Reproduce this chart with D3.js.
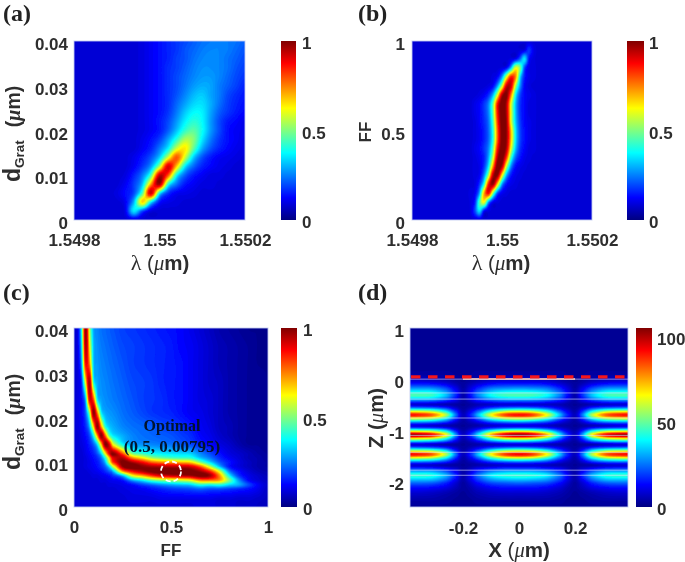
<!DOCTYPE html>
<html><head><meta charset="utf-8">
<script src="https://cdn.jsdelivr.net/npm/d3@7"></script>
<style>html,body{margin:0;padding:0;background:#fff}svg{display:block}</style>
</head><body><svg id="c" width="685" height="562"></svg>
<script>
// ---- colour map
const jetStops=[0,.125,.375,.625,.875,1];
const jetColors=["#000080","#0000ff","#00ffff","#ffff00","#ff0000","#800000"];

// ---- panel (a): value x100, rows from d=0.04 down to d=0
const lambdaA=[1.5498,1.54982,1.54984,1.54986,1.54988,1.5499,1.54992,1.54994,1.54996,1.54998,1.55,1.55002,1.55004,1.55006,1.55008,1.5501,1.55012,1.55014,1.55016,1.55018,1.5502];
const dA=[.04,.038,.036,.034,.032,.03,.028,.026,.024,.022,.02,.018,.016,.014,.012,.01,.008,.006,.004,.002,0];
const valuesA=[
[9,9,9,9,9,9,9,9,10,12,14,16,18,20,22,24,25,26,25,24,22],
[9,9,9,9,9,9,9,9,10,12,14,16,18,21,23,25,26,26,25,23,21],
[9,9,9,9,9,9,9,9,10,12,14,16,19,21,24,26,27,26,24,22,20],
[9,9,9,9,9,9,9,9,10,12,14,17,19,22,25,27,27,26,24,21,19],
[9,9,9,9,9,9,9,9,10,12,14,17,20,23,26,28,28,26,23,20,18],
[9,9,9,9,9,9,9,9,10,12,14,17,20,24,28,30,29,25,22,19,16],
[9,9,9,9,9,9,9,9,10,12,14,17,21,26,31,33,29,25,20,17,15],
[9,9,9,9,9,9,9,9,10,12,14,17,23,29,34,35,30,24,19,16,14],
[9,9,9,9,9,9,9,9,10,12,14,18,25,33,38,37,29,22,18,15,13],
[9,9,9,9,9,9,9,9,10,12,15,20,28,37,42,38,28,20,15,13,11],
[9,9,9,9,9,9,9,9,10,12,15,22,32,43,47,39,28,20,14,12,11],
[9,9,9,9,9,9,9,9,11,14,19,29,42,55,51,36,25,18,14,12,10],
[9,9,9,9,9,9,9,9,12,16,25,37,58,65,47,30,21,16,13,11,10],
[9,9,9,9,9,9,9,11,15,21,33,58,80,58,33,21,15,12,11,10,9],
[9,9,9,9,9,9,9,12,18,28,54,92,68,36,23,16,13,11,10,9,9],
[9,9,9,9,9,9,10,16,25,45,94,80,38,22,15,12,10,10,9,9,9],
[9,9,9,9,9,9,12,19,32,72,98,41,24,15,12,10,10,9,9,9,9],
[9,9,9,9,9,10,14,20,45,94,37,18,12,11,10,9,9,9,9,9,9],
[9,9,9,9,9,9,12,30,68,36,15,11,10,9,9,9,9,9,9,9,9],
[9,9,9,9,9,9,11,36,20,10,9,9,9,9,9,9,9,9,9,9,9],
[9,9,9,9,9,9,9,9,9,9,9,9,9,9,9,9,9,9,9,9,9]];

// ---- panel (b)
const lambdaB=[1.5498,1.5499,1.54991,1.54992,1.54993,1.54994,1.54995,1.54996,1.54997,1.54998,1.54999,1.55,1.55001,1.55002,1.55003,1.55004,1.55005,1.55006,1.55007,1.55008,1.55009,1.5501,1.5502];
const ffB=[1,.95,.9,.85,.8,.75,.7,.65,.6,.55,.5,.45,.4,.35,.3,.25,.2,.15,.1,.05,0];
const valuesB=[
[9,9,9,9,9,9,9,9,9,9,9,9,9,9,9,9,9,9,9,9,9,9,9],
[9,9,9,9,9,9,9,9,9,9,9,9,9,9,9,9,10,18,11,9,9,9,9],
[9,9,9,9,9,9,9,9,9,9,9,9,9,10,12,22,36,14,10,9,9,9,9],
[9,9,9,9,9,9,9,9,9,9,9,10,13,30,60,50,20,11,10,9,9,9,9],
[9,9,9,9,9,9,9,9,9,10,13,27,58,85,75,35,16,11,10,9,9,9,9],
[9,9,9,9,9,9,9,9,10,13,28,55,92,92,55,28,13,10,9,9,9,9,9],
[9,9,9,9,9,9,10,12,17,30,58,94,101,75,38,20,13,11,10,9,9,9,9],
[9,9,9,9,9,11,13,18,26,47,86,103,95,60,32,18,13,10,10,9,9,9,9],
[9,9,9,9,9,11,13,18,26,47,86,103,95,60,32,18,13,10,10,9,9,9,9],
[9,9,9,9,9,10,13,17,24,44,82,103,97,60,33,19,13,11,10,9,9,9,9],
[9,9,9,9,9,10,12,16,23,41,78,102,98,68,36,20,14,11,10,9,9,9,9],
[9,9,9,9,9,10,12,16,23,41,78,102,98,68,36,20,14,11,10,9,9,9,9],
[9,9,9,9,9,11,13,18,26,47,86,103,95,60,32,18,13,10,10,9,9,9,9],
[9,9,9,9,9,10,12,16,29,56,95,103,82,44,23,15,11,10,9,9,9,9,9],
[9,9,9,9,9,10,11,18,36,72,103,95,56,27,14,11,10,9,9,9,9,9,9],
[9,9,9,9,9,10,12,25,53,94,99,63,30,15,11,10,9,9,9,9,9,9,9],
[9,9,9,9,9,10,18,40,85,98,65,28,14,11,10,9,9,9,9,9,9,9,9],
[9,9,9,9,10,12,28,70,88,50,20,12,10,9,9,9,9,9,9,9,9,9,9],
[9,9,9,9,10,16,45,62,27,12,10,9,9,9,9,9,9,9,9,9,9,9,9],
[9,9,9,9,10,20,35,13,10,9,9,9,9,9,9,9,9,9,9,9,9,9,9],
[9,9,9,9,9,9,9,9,9,9,9,9,9,9,9,9,9,9,9,9,9,9,9]];

// ---- panel (c)
const ffC=[0,.02,.04,.06,.08,.1,.12,.14,.16,.18,.2,.25,.3,.35,.4,.45,.5,.55,.6,.65,.7,.75,.8,.85,.9,.95,1];
const dC=[.04,.036,.032,.028,.024,.021,.018,.016,.014,.012,.011,.01,.009,.008,.007,.006,.005,.004,.002,0];
const valuesC=[
[9,11,40,100,55,30,26,24,23,22,21,19,18,17,16,15,14,13,11,9,7,5,4,3,2,2,1],
[9,11,35,97,63,32,27,25,24,23,22,20,19,18,17,16,15,13,12,10,8,6,5,4,3,2,2],
[9,10,29,88,74,33,28,26,25,24,23,21,19,18,17,16,15,14,12,10,8,6,5,4,3,2,2],
[9,10,18,62,97,40,30,27,26,25,24,22,20,19,18,16,15,14,12,10,8,7,5,4,3,3,2],
[9,10,14,30,90,80,36,29,27,26,25,23,21,19,18,17,15,14,12,10,9,7,5,4,3,3,2],
[9,10,13,22,50,100,75,38,30,28,27,24,22,20,18,17,16,14,12,11,9,7,5,4,3,3,2],
[9,10,12,17,30,65,100,72,42,33,30,26,24,23,22,20,19,17,15,12,10,7,6,4,3,3,2],
[9,9,11,14,20,38,72,100,78,48,36,30,26,24,23,22,21,19,17,13,11,8,6,4,3,3,2],
[9,9,10,12,16,22,35,66,100,92,62,38,29,27,26,25,24,22,20,16,13,10,8,5,3,3,2],
[9,9,9,11,13,16,22,35,62,88,100,78,48,42,38,36,35,34,33,26,20,14,10,8,6,4,3],
[9,9,9,10,12,14,17,24,40,65,90,95,74,64,53,48,45,43,42,32,25,17,12,9,6,5,3],
[9,9,9,10,11,13,15,20,30,55,82,102,96,88,78,74,72,69,66,50,35,22,15,10,7,5,4],
[9,9,9,10,11,12,14,17,22,33,55,98,104,100,97,96,95,94,92,80,57,32,15,10,7,5,4],
[9,9,9,9,10,11,12,14,17,22,30,72,88,96,102,104,104,104,102,97,84,58,25,14,9,6,5],
[9,9,9,9,9,10,10,11,12,14,18,30,60,70,82,90,93,95,97,102,98,74,38,18,11,8,6],
[9,9,9,9,9,9,9,10,10,11,12,15,29,37,47,52,55,58,62,75,76,72,50,27,13,9,7],
[9,9,9,9,9,9,9,9,9,10,10,11,14,19,23,27,30,32,34,42,40,42,35,30,20,12,8],
[9,9,9,9,9,9,9,9,9,9,9,10,11,12,14,16,18,19,20,22,20,20,18,16,14,11,7],
[9,9,9,9,9,9,9,9,9,9,9,9,10,10,10,11,11,11,11,11,11,10,10,9,9,8,7],
[9,9,9,9,9,9,9,9,9,9,9,9,9,9,9,9,9,9,9,10,10,9,9,8,8,7,6]];

// ---- panel (d): half period, x = 0 .. 0.39 (the field is mirror-symmetric about x = 0)
const xHalfD=[0,.05,.1,.15,.18,.2,.22,.26,.31,.36,.39];
const zD=[1,.5,.2,.1,.03,-.04,-.1,-.16,-.22,-.31,-.38,-.44,-.5,-.57,-.63,-.7,-.77,-.84,-.91,-.97,-1.03,-1.09,-1.15,-1.22,-1.28,-1.35,-1.41,-1.47,-1.54,-1.61,-1.68,-1.75,-1.82,-1.88,-1.95,-2.03,-2.12,-2.22,-2.35,-2.5];
const halfValuesD=[
[3,3,3,3,3,3,3,3,3,3,3],
[3,3,3,3,3,3,3,3,3,3,3],
[3,3,3,3,3,3,3,3,3,3,3],
[4,4,4,4,3,3,3,4,4,4,4],
[7,7,6,5,4,3,4,5,6,7,7],
[10,10,9,6,4,3,4,7,9,10,10],
[17,17,15,10,6,4,6,12,16,17,17],
[26,25,23,15,8,4,9,19,25,26,26],
[36,35,31,20,10,5,12,26,35,36,36],
[48,47,41,26,12,5,16,34,46,48,48],
[36,35,31,20,10,5,12,26,35,36,36],
[20,20,17,12,6,4,8,14,19,20,20],
[9,9,8,6,4,3,4,6,8,9,9],
[30,28,22,12,6,4,8,20,27,29,30],
[62,58,44,22,10,5,15,39,56,61,62],
[92,86,65,31,14,7,21,58,83,90,92],
[62,58,44,22,10,5,15,39,56,61,62],
[28,26,21,11,6,4,8,19,26,28,28],
[10,10,8,5,4,3,4,6,8,10,10],
[30,28,22,12,6,4,8,20,27,29,30],
[70,65,50,24,11,6,16,45,63,69,70],
[104,97,74,35,15,7,23,66,94,102,104],
[72,67,51,25,11,6,17,46,65,71,72],
[32,30,23,12,6,4,9,21,29,32,32],
[9,9,7,5,4,3,4,5,8,9,9],
[30,28,22,12,6,4,8,20,27,29,30],
[64,60,46,23,10,5,15,41,58,63,64],
[93,87,66,32,14,7,21,58,84,91,93],
[62,58,44,22,10,5,15,39,56,61,62],
[28,26,21,11,6,4,8,19,26,28,28],
[9,9,7,5,4,3,4,5,8,9,9],
[20,20,17,12,6,4,8,14,19,20,20],
[35,34,30,19,9,5,12,25,34,35,35],
[45,44,39,24,11,5,15,32,43,45,45],
[36,35,31,20,10,5,12,26,35,36,36],
[24,23,21,14,7,4,8,17,23,24,24],
[15,15,13,9,5,4,6,11,14,15,15],
[9,9,8,6,4,3,4,6,8,9,9],
[5,5,5,4,3,3,3,4,5,5,5],
[3,3,3,3,3,3,3,3,3,3,3]];
const interfacesZ=[0,-.27,-.39,-.76,-1.1,-1.43,-1.78,-1.88];
const gratingX=[-.2,.2];
const gratingZ=0.005;
const dashZ=.045;

// ---- tick values and labels
const ticksLambda=[1.5498,1.55,1.5502], labelsLambda=["1.5498","1.55","1.5502"];
const ticksD=[0,.01,.02,.03,.04], labelsD=["0","0.01","0.02","0.03","0.04"];
const ticksFF=[0,.5,1], labelsFF=["0","0.5","1"];
const ticksXd=[-.2,0,.2], labelsXd=["-0.2","0","0.2"];
const ticksZd=[1,0,-1,-2], labelsZd=["1","0","-1","-2"];
const ticksBar=[0,.5,1], labelsBar=["0","0.5","1"];
const ticksBarD=[0,50,100], labelsBarD=["0","50","100"];
const optimalPoint=[.5,.00795];
const optimalText=["Optimal","(0.5, 0.00795)"];

// ---- drawing
const svg=d3.select("#c");
const defs=svg.append("defs");
const blurM=defs.append("filter").attr("id","blurM").attr("x","-5%").attr("y","-5%").attr("width","110%").attr("height","110%");
blurM.append("feGaussianBlur").attr("stdDeviation",.7);
const blurT=defs.append("filter").attr("id","blurT").attr("x","-10%").attr("y","-10%").attr("width","120%").attr("height","120%");
blurT.append("feGaussianBlur").attr("stdDeviation",.45);
const grad=defs.append("linearGradient").attr("id","jetGrad").attr("x1",0).attr("x2",0).attr("y1",1).attr("y2",0);
jetStops.forEach((s,i)=>grad.append("stop").attr("offset",s).attr("stop-color",jetColors[i]));

const sans="'Liberation Sans',Arial,sans-serif", serif="'Liberation Serif','Times New Roman',serif";
const ink="#2e2e2e";
const jet=d3.scaleLinear().domain(jetStops).range(jetColors).clamp(true);
const art=svg.append("g");
const ui=svg.append("g").attr("filter","url(#blurT)");
let clipN=0;

// smooth shading of the read grid (Catmull-Rom between samples, like interpolated shading)
function cr(a,b,c,d,t){return .5*(2*b+(c-a)*t+(2*a-5*b+4*c-d)*t*t+(3*b-a-3*c+d)*t*t*t);}
function fineLine(v,k){
  const out=[],n=v.length;
  for(let i=0;i<n-1;i++)for(let s=0;s<k;s++)
    out.push(cr(v[Math.max(i-1,0)],v[i],v[i+1],v[Math.min(i+2,n-1)],s/k));
  out.push(v[n-1]);return out;
}
function linearFine(v,k){
  const out=[];
  for(let i=0;i<v.length-1;i++)for(let s=0;s<k;s++)out.push(v[i]+(v[i+1]-v[i])*s/k);
  out.push(v[v.length-1]);return out;
}
function fineGrid(vals,k){
  const r1=vals.map(r=>fineLine(r,k));
  const cols=d3.transpose(r1).map(c=>fineLine(c,k));
  return d3.transpose(cols);
}

function heat(box,cols,rows,vals,xDom,yDom,maxV){
  const k=4;
  const fc=linearFine(cols,k), fr=linearFine(rows,k), fv=fineGrid(vals,k);
  const x=d3.scaleLinear().domain(xDom).range([box.x0,box.x1]);
  const y=d3.scaleLinear().domain(yDom).range([box.y1,box.y0]);
  const gx=d3.scaleLinear().domain(fc.map((_,i)=>i+.5)).range(fc);
  const gy=d3.scaleLinear().domain(fr.map((_,i)=>i+.5)).range(fr);
  const id="clip"+(clipN++);
  defs.append("clipPath").attr("id",id).append("rect")
    .attr("x",box.x0).attr("y",box.y0).attr("width",box.x1-box.x0).attr("height",box.y1-box.y0);
  const path=d3.geoPath(d3.geoTransform({point(a,b){this.stream.point(x(gx(a)),y(gy(b)));}}));
  const th=d3.range(0,maxV*1.001,maxV/96);
  const cs=d3.contours().size([fc.length,fr.length]).smooth(true).thresholds(th)(fv.flat());
  const g=art.append("g").attr("clip-path",`url(#${id})`).append("g").attr("filter","url(#blurM)");
  g.append("rect").attr("x",box.x0-6).attr("y",box.y0-6).attr("width",box.x1-box.x0+12).attr("height",box.y1-box.y0+12)
    .attr("fill",jet(d3.min(vals.flat())/maxV));
  g.selectAll("path").data(cs).join("path").attr("d",path).attr("fill",d=>jet(d.value/maxV));
  return {x,y,g};
}
function frame(box){
  art.append("rect").attr("x",box.x0).attr("y",box.y0).attr("width",box.x1-box.x0).attr("height",box.y1-box.y0)
    .attr("fill","none").attr("stroke","#c3cdf2").attr("stroke-width",1).attr("opacity",.85);
}
function axes(p,box,xt,xl,yt,yl,o){
  const ax=ui.append("g").attr("transform",`translate(0,${box.y1+o.xGap})`)
    .call(d3.axisBottom(p.x).tickValues(xt).tickFormat((_,i)=>xl[i]).tickSize(0).tickPadding(0));
  const ay=ui.append("g").attr("transform",`translate(${box.x0-o.yGap},0)`)
    .call(d3.axisLeft(p.y).tickValues(yt).tickFormat((_,i)=>yl[i]).tickSize(0).tickPadding(0));
  ay.selectAll("text").attr("dy","0.5em");
  [ax,ay].forEach(a=>{a.select(".domain").remove();
    a.selectAll("text").attr("font-family",sans).attr("font-size",17).attr("font-weight",700).attr("fill",ink);});
}
function colorbar(b,dom,tv,tl,gap){
  art.append("rect").attr("x",b.x0).attr("y",b.y0).attr("width",b.x1-b.x0).attr("height",b.y1-b.y0).attr("fill","url(#jetGrad)");
  const s=d3.scaleLinear().domain(dom).range([b.y1,b.y0]);
  const a=ui.append("g").attr("transform",`translate(${b.x1+gap},0)`)
    .call(d3.axisRight(s).tickValues(tv).tickFormat((_,i)=>tl[i]).tickSize(0).tickPadding(0));
  a.select(".domain").remove();
  a.selectAll("text").attr("dy","0.45em").attr("font-family",sans).attr("font-size",17).attr("font-weight",700).attr("fill",ink);
}
function panelLabel(t,x,y){ui.append("text").attr("x",x).attr("y",y).attr("font-family",serif).attr("font-weight",700).attr("font-size",24).attr("fill","#222").text(t);}
function umLabel(prefix,cx,y){
  const t=ui.append("text").attr("x",cx).attr("y",y).attr("text-anchor","middle").attr("font-size",20.5).attr("fill",ink);
  if(prefix==="\u03bb") t.append("tspan").attr("font-family",serif).attr("font-size",22).text("\u03bb");
  else t.append("tspan").attr("font-family",sans).attr("font-weight",700).text(prefix);
  t.append("tspan").attr("font-family",sans).attr("font-weight",500).text(" (");
  t.append("tspan").attr("font-family",serif).attr("font-style","italic").text("\u03bc");
  t.append("tspan").attr("font-family",sans).attr("font-weight",700).text("m)");
}
function plain(txt,x,y,rot){
  const t=ui.append("text").attr("font-family",sans).attr("font-weight",700).attr("font-size",17).attr("fill",ink).attr("text-anchor","middle").text(txt);
  t.attr("transform",`translate(${x},${y})`+(rot?" rotate(-90)":""));
}
function dgrat(x,y){
  const t=ui.append("text").attr("transform",`translate(${x},${y}) rotate(-90)`).attr("fill",ink).attr("font-family",sans).attr("font-weight",700);
  t.append("tspan").attr("font-size",23).text("d");
  t.append("tspan").attr("font-size",13.5).attr("dy",4).text("Grat");
  t.append("tspan").attr("font-size",19.5).attr("dy",-4).attr("dx",13).text("(");
  t.append("tspan").attr("font-size",20).attr("font-family",serif).attr("font-style","italic").text("\u03bc");
  t.append("tspan").attr("font-size",19.5).text("m)");
}

// (a)
const boxA={x0:74,x1:245,y0:41,y1:220};
const pA=heat(boxA,lambdaA,dA,valuesA,[1.5498,1.5502],[0,.04],100);
frame(boxA);
axes(pA,boxA,ticksLambda,labelsLambda,ticksD,labelsD,{xGap:14,yGap:6});
colorbar({x0:281,x1:296,y0:41,y1:220},[0,1],ticksBar,labelsBar,6);
panelLabel("(a)",3,21);
umLabel("\u03bb",160,270);
dgrat(20,182);
// (b)
const boxB={x0:412,x1:592,y0:41,y1:220};
const pB=heat(boxB,lambdaB,ffB,valuesB,[1.5498,1.5502],[0,1],100);
frame(boxB);
axes(pB,boxB,ticksLambda,labelsLambda,ticksFF,labelsFF,{xGap:14,yGap:7});
colorbar({x0:627,x1:644,y0:41,y1:220},[0,1],ticksBar,labelsBar,5);
panelLabel("(b)",358,21);
umLabel("\u03bb",501,270);
plain("FF",371,132,true);
// (c)
const boxC={x0:74,x1:268,y0:328,y1:507};
const pC=heat(boxC,ffC,dC,valuesC,[0,1],[0,.04],100);
frame(boxC);
axes(pC,boxC,ticksFF,labelsFF,ticksD,labelsD,{xGap:14,yGap:6});
colorbar({x0:281,x1:297,y0:328,y1:507},[0,1],ticksBar,labelsBar,6);
panelLabel("(c)",3,300);
plain("FF",171,556,false);
dgrat(20,470);
const opt=ui.append("g");
optimalText.forEach((s,i)=>opt.append("text").attr("x",172).attr("y",431+i*21).attr("text-anchor","middle")
  .attr("font-family",serif).attr("font-weight",700).attr("font-size",i?17:16).attr("fill","#06122e").text(s));
art.append("circle").attr("cx",pC.x(optimalPoint[0])).attr("cy",pC.y(optimalPoint[1])).attr("r",10)
  .attr("fill","none").attr("stroke","#fff").attr("stroke-width",1.8).attr("stroke-dasharray","5 3");
// (d)
const boxD={x0:410,x1:628,y0:328,y1:507};
const colsD=[...xHalfD.slice(1).reverse().map(v=>-v),...xHalfD];
const gridD=halfValuesD.map(r=>[...r.slice(1).reverse(),...r]);
const pD=heat(boxD,colsD,zD,gridD,[-.389,.389],[-2.5,1],105);
const over=art.append("g").attr("filter","url(#blurT)");
interfacesZ.forEach(z=>over.append("line").attr("x1",boxD.x0).attr("x2",boxD.x1).attr("y1",pD.y(z)).attr("y2",pD.y(z))
  .attr("stroke","#dfe3ff").attr("stroke-width",1).attr("opacity",.6));
over.append("line").attr("x1",pD.x(gratingX[0])).attr("x2",pD.x(gratingX[1])).attr("y1",pD.y(gratingZ)).attr("y2",pD.y(gratingZ))
  .attr("stroke","#e8c4c0").attr("stroke-width",2).attr("opacity",.85);
over.append("line").attr("x1",pD.x(-.389)+1).attr("x2",boxD.x1).attr("y1",pD.y(dashZ)).attr("y2",pD.y(dashZ))
  .attr("stroke","#f4141c").attr("stroke-width",3.4).attr("stroke-dasharray","9.5 7.5");
frame(boxD);
axes(pD,boxD,ticksXd,labelsXd,ticksZd,labelsZd,{xGap:15,yGap:6});
colorbar({x0:636,x1:652,y0:328,y1:507},[0,105],ticksBarD,labelsBarD,5);
panelLabel("(d)",358,300);
umLabel("X",519,557);
{const t=ui.append("text").attr("transform","translate(383,418) rotate(-90)").attr("text-anchor","middle").attr("fill",ink).attr("font-size",20.5);
 t.append("tspan").attr("font-family",sans).attr("font-weight",700).text("Z (");
 t.append("tspan").attr("font-family",serif).attr("font-style","italic").text("\u03bc");
 t.append("tspan").attr("font-family",sans).attr("font-weight",700).text("m)");}
</script></body></html>
